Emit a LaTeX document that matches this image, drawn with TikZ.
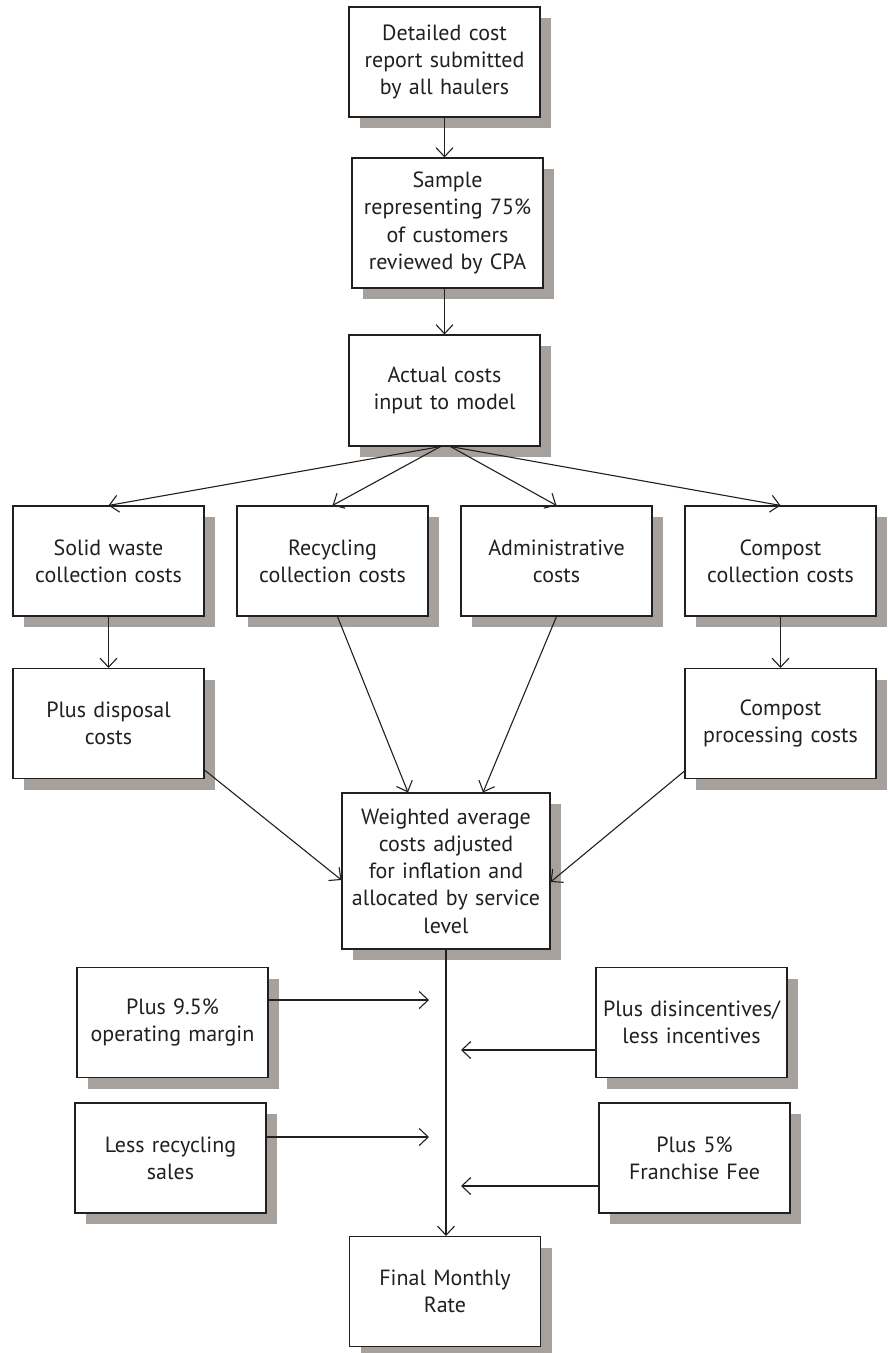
\documentclass[tikz,border=0pt]{standalone}
\usepackage{fontspec}
\setmainfont{PT Sans}
\usetikzlibrary{arrows.meta,shadows}
\definecolor{ink}{HTML}{231F20}
\definecolor{shade}{HTML}{A7A19E}
\tikzset{
  >={Straight Barb[length=9pt,width=17pt]},
  every picture/.style={line width=1.1pt,draw=ink,font=\fontsize{22}{27.3}\selectfont},
  bx/.style={draw=ink,fill=white,align=center,inner sep=0pt,text=ink,
    minimum width=191pt,minimum height=110pt,text width=188pt,
    general shadow={fill=shade,draw=none,shadow xshift=11pt,shadow yshift=-11pt}},
  arr/.style={->,draw=ink},
}
\begin{document}
\begin{tikzpicture}[x=1pt,y=-1pt]
  \useasboundingbox (0,0) rectangle (888,1353);
  % top column
  \node[bx] (rep) at (444.5,62) {Detailed cost\\report submitted\\by all haulers};
  \node[bx,minimum height=130pt] (smp) at (447.5,223) {Sample\\representing 75\%\\of customers\\reviewed by CPA};
  \node[bx,minimum height=111pt] (act) at (444.5,390.5) {Actual costs\\input to model};
  \draw[arr] (rep.south) -- (rep.south |- smp.north);
  \draw[arr] (rep.south |- smp.south) -- (rep.south |- act.north);
  % cost groups
  \node[bx] (sw) at (108.5,561) {Solid waste\\collection costs};
  \node[bx] (rc) at (332.5,561) {Recycling\\collection costs\\[5pt]};
  \node[bx] (ad) at (556.5,561) {Administrative\\costs};
  \node[bx] (cp) at (780.5,561) {Compost\\collection costs};
  \foreach \n/\s in {sw/-4,rc/-4,ad/6,cp/6}
    \draw[arr] ([xshift=\s pt]act.south) -- (\n.north);
  \node[bx] (pd) at (108.5,723.5) {Plus disposal\\costs};
  \node[bx] (cpp) at (780.5,723.5) {Compost\\processing costs};
  \draw[arr] (sw.south) -- (pd.north);
  \draw[arr] (cp.south) -- (cpp.north);
  % weighted average
  \node[bx,minimum width=208pt,minimum height=156pt,text width=204pt] (wt) at (446,871)
    {Weighted average\\costs adjusted\\for inflation and\\allocated by service\\level};
  \draw[arr] ([yshift=9pt]pd.south east) -- ([yshift=-9pt]wt.west);
  \draw[arr] ([xshift=5pt]rc.south) -- ([xshift=-38pt]wt.north);
  \draw[arr] (ad.south) -- ([xshift=37pt]wt.north);
  \draw[arr] ([yshift=8pt]cpp.south west) -- ([yshift=-11pt]wt.east);
  % adjustments
  \node[bx] (pm) at (172.5,1022.5) {Plus 9.5\%\\operating margin};
  \node[bx] (lr) at (170.5,1158) {Less recycling\\sales};
  \node[bx] (pdi) at (691.5,1022.5) {Plus disincentives/\\less incentives};
  \node[bx] (pf) at (694.5,1158) {Plus 5\%\\Franchise Fee};
  \node[bx] (fin) at (445,1291.5) {Final Monthly\\Rate};
  \coordinate (m1) at (429,1000);
  \coordinate (m2) at (429,1137);
  \coordinate (m3) at (461,1050);
  \coordinate (m4) at (461,1186);
  \draw[arr] (pm.east |- m1) -- (m1);
  \draw[arr] (lr.east |- m2) -- (m2);
  \draw[arr] (pdi.west |- m3) -- (m3);
  \draw[arr] (pf.west |- m4) -- (m4);
  \draw[arr] (wt.south) -- (wt.south |- fin.north);
\end{tikzpicture}
\end{document}
